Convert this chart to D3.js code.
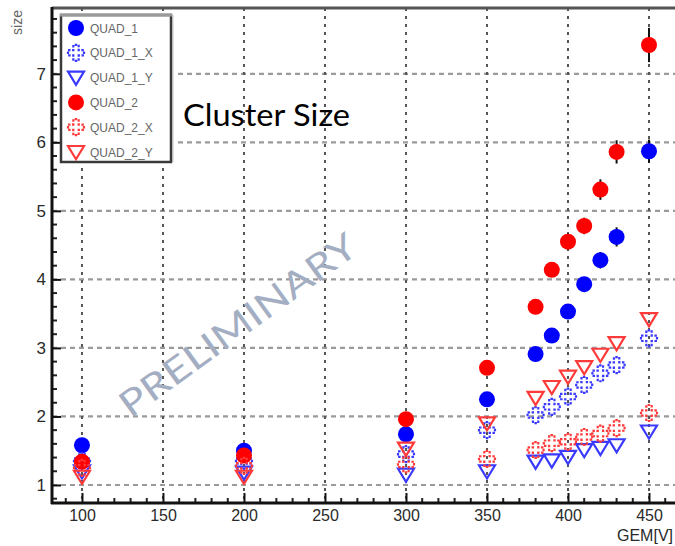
<!DOCTYPE html>
<html><head><meta charset="utf-8">
<script src="https://cdn.jsdelivr.net/npm/d3@7"></script>
<style>body{margin:0;background:#fff}svg{display:block}</style>
</head><body>
<script>
const voltages = [100, 200, 300, 350, 380, 390, 400, 410, 420, 430, 450];
const quad1   = [1.58, 1.50, 1.74, 2.25, 2.91, 3.18, 3.53, 3.93, 4.28, 4.62, 5.87];
const quad1X  = [1.35, 1.35, 1.45, 1.80, 2.02, 2.14, 2.29, 2.46, 2.63, 2.75, 3.14];
const quad1Y  = [1.20, 1.18, 1.15, 1.20, 1.34, 1.36, 1.41, 1.51, 1.54, 1.58, 1.78];
const quad2   = [1.34, 1.43, 1.96, 2.71, 3.60, 4.14, 4.55, 4.78, 5.31, 5.86, 7.42];
const quad2X  = [1.25, 1.28, 1.30, 1.38, 1.51, 1.61, 1.63, 1.70, 1.75, 1.83, 2.05];
const quad2Y  = [1.12, 1.12, 1.53, 1.90, 2.27, 2.43, 2.58, 2.72, 2.90, 3.07, 3.42];
const quad1Err = [0, 0, 0.04, 0.06, 0.06, 0.08, 0.10, 0.10, 0.12, 0.14, 0.17];
const quad2Err = [0, 0, 0.05, 0.07, 0.08, 0.10, 0.12, 0.12, 0.15, 0.17, 0.25];
const seriesNames = ["QUAD_1", "QUAD_1_X", "QUAD_1_Y", "QUAD_2", "QUAD_2_X", "QUAD_2_Y"];
const xTickValues = [100, 150, 200, 250, 300, 350, 400, 450];
const yTickValues = [1, 2, 3, 4, 5, 6, 7];

const W = 675, H = 546;
const svg = d3.select("body").append("svg").attr("width", W).attr("height", H)
  .style("font-family", "'Liberation Sans', Arial, sans-serif");

const x = d3.scaleLinear().domain([81.5, 480]).range([52, 697.6]);
const y = d3.scaleLinear().domain([0.737, 7.96]).range([503, 8]);

const plotL = 52, plotR = 700, plotT = 8, plotB = 503;

// grid
svg.append("g").selectAll("line").data(yTickValues).join("line")
  .attr("x1", plotL).attr("x2", plotR).attr("y1", d => y(d)).attr("y2", d => y(d))
  .attr("stroke", "#9a9a9a").attr("stroke-width", 2.2).attr("stroke-dasharray", "5,4");
svg.append("g").selectAll("line").data(xTickValues).join("line")
  .attr("x1", d => x(d)).attr("x2", d => x(d)).attr("y1", plotT).attr("y2", plotB)
  .attr("stroke", "#555").attr("stroke-width", 2).attr("stroke-dasharray", "3,5");

// top frame
svg.append("line").attr("x1", plotL).attr("x2", plotR).attr("y1", plotT).attr("y2", plotT)
  .attr("stroke", "#555").attr("stroke-width", 3);

// axes
const xAxis = d3.axisBottom(x).tickValues(xTickValues).tickSize(-10).tickPadding(7)
  .tickFormat(d3.format("d"));
const gx = svg.append("g").attr("transform", `translate(0,${plotB})`).call(xAxis);
gx.select(".domain").remove();
gx.selectAll(".tick line").attr("stroke", "#111").attr("stroke-width", 2);
gx.selectAll(".tick text").attr("font-size", 16).attr("fill", "#2a2a2a").attr("dy", "0.71em");
const xMinor = d3.range(90, 481, 10).filter(v => v % 50 !== 0);
svg.append("g").selectAll("line").data(xMinor).join("line")
  .attr("x1", d => x(d)).attr("x2", d => x(d)).attr("y1", plotB).attr("y2", plotB - 5)
  .attr("stroke", "#222").attr("stroke-width", 2);
svg.append("line").attr("x1", plotL - 1).attr("x2", plotR).attr("y1", plotB).attr("y2", plotB)
  .attr("stroke", "#111").attr("stroke-width", 3);

const yAxis = d3.axisLeft(y).tickValues(yTickValues).tickSize(-9).tickPadding(6)
  .tickFormat(d3.format("d"));
const gy = svg.append("g").attr("transform", `translate(${plotL},0)`).call(yAxis);
gy.select(".domain").remove();
gy.selectAll(".tick line").attr("stroke", "#111").attr("stroke-width", 2);
gy.selectAll(".tick text").attr("font-size", 17).attr("fill", "#2a2a2a");
const yMinor = d3.range(0.8, 7.95, 0.2).filter(v => Math.abs(v - Math.round(v)) > 0.01);
svg.append("g").selectAll("line").data(yMinor).join("line")
  .attr("x1", plotL).attr("x2", plotL + 5).attr("y1", d => y(d)).attr("y2", d => y(d))
  .attr("stroke", "#222").attr("stroke-width", 2);
svg.append("line").attr("x1", plotL).attr("x2", plotL).attr("y1", plotT - 1).attr("y2", plotB + 1)
  .attr("stroke", "#111").attr("stroke-width", 3);

// axis titles
svg.append("text").attr("transform", "translate(22,10) rotate(-90)")
  .attr("text-anchor", "end").attr("font-size", 14).attr("fill", "#666")
  .text("size");
svg.append("text").attr("x", 673).attr("y", 541).attr("text-anchor", "end")
  .attr("font-size", 16).attr("fill", "#2a2a2a").text("GEM[V]");

// watermark
svg.append("text").attr("transform", "translate(240,328) rotate(-36)")
  .attr("text-anchor", "middle").attr("dominant-baseline", "middle")
  .attr("font-family", "Lato, 'Open Sans', sans-serif").attr("font-size", 36)
  .attr("fill", "#a4aec2").attr("textLength", 284).attr("lengthAdjust", "spacingAndGlyphs")
  .text("PRELIMINARY");

// marker shapes
const triDown = { draw(ctx, size) { const s = Math.sqrt(size) / 2;
  ctx.moveTo(-s, -s * 0.75); ctx.lineTo(s, -s * 0.75); ctx.lineTo(0, s * 0.9); ctx.closePath(); } };
const styles = {
  "QUAD_1":   { color: "#0000ff", type: "circle" },
  "QUAD_1_X": { color: "#3a3aff", type: "cross" },
  "QUAD_1_Y": { color: "#3a3aff", type: "tri" },
  "QUAD_2":   { color: "#ff0000", type: "circle" },
  "QUAD_2_X": { color: "#ff3a3a", type: "cross" },
  "QUAD_2_Y": { color: "#ff3a3a", type: "tri" }
};
const seriesValues = [quad1, quad1X, quad1Y, quad2, quad2X, quad2Y];
const seriesErr = [quad1Err, null, null, quad2Err, null, null];

function drawMarker(g, type, color) {
  if (type === "circle") {
    g.append("circle").attr("r", 8).attr("fill", color);
  } else if (type === "cross") {
    g.append("path").attr("d", d3.symbol().type(d3.symbolCross).size(142)())
      .attr("fill", "none").attr("stroke", color).attr("stroke-width", 2.2)
      .attr("stroke-dasharray", "2.5,1.5");
  } else {
    g.append("path").attr("d", d3.symbol().type(triDown).size(256)())
      .attr("fill", "none").attr("stroke", color).attr("stroke-width", 2.2);
  }
}

const plot = svg.append("g");
seriesNames.forEach((name, si) => {
  const st = styles[name];
  const vals = seriesValues[si];
  const err = seriesErr[si];
  const g = plot.append("g");
  voltages.forEach((v, i) => {
    if (err && err[i] > 0) {
      g.append("line").attr("x1", x(v)).attr("x2", x(v))
        .attr("y1", y(vals[i] - err[i])).attr("y2", y(vals[i] + err[i]))
        .attr("stroke", "#111").attr("stroke-width", 2);
    }
    const m = g.append("g").attr("transform", `translate(${x(v)},${y(vals[i])})`);
    drawMarker(m, st.type, st.color);
  });
});

// legend
const lg = svg.append("g");
lg.append("rect").attr("x", 64).attr("y", 15).attr("width", 110).attr("height", 147).attr("fill", "#e4e4e4");
lg.append("rect").attr("x", 61).attr("y", 15).attr("width", 110).attr("height", 147)
  .attr("fill", "#fff").attr("stroke", "#3a3a3a").attr("stroke-width", 2.5);
lg.append("line").attr("x1", 60).attr("x2", 172).attr("y1", 15).attr("y2", 15)
  .attr("stroke", "#9a9a9a").attr("stroke-width", 3);
seriesNames.forEach((name, i) => {
  const cy = 28 + i * 24.8;
  const m = lg.append("g").attr("transform", `translate(76,${cy})`);
  drawMarker(m, styles[name].type, styles[name].color);
  lg.append("text").attr("x", 90).attr("y", cy + 4.5).attr("font-size", 12)
    .attr("fill", "#666").text(name);
});

// annotation
svg.append("text").attr("x", 183).attr("y", 126)
  .attr("font-family", "Lato, 'Open Sans', sans-serif").attr("font-size", 30)
  .attr("fill", "#000").attr("textLength", 167).attr("lengthAdjust", "spacingAndGlyphs")
  .text("Cluster Size");
</script>
</body></html>
